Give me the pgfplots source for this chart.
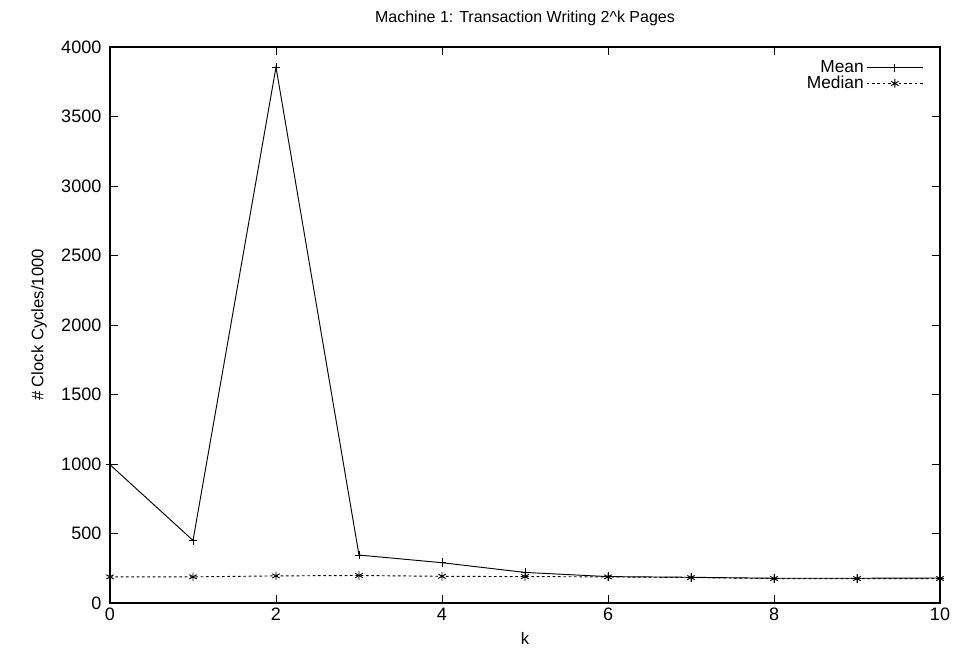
\documentclass[border=0pt]{standalone}
\usepackage{pgfplots}
\pgfplotsset{compat=1.18}
\usepackage{fontspec}
\setmainfont{Liberation Sans}
\begin{document}
\begin{tikzpicture}[x=0.75pt,y=0.75pt]
\useasboundingbox (-110,-59) rectangle (846,603);
\begin{axis}[
  at={(0,0)}, anchor=south west,
  scale only axis, width=830*0.75pt, height=556*0.75pt,
  xmin=0, xmax=10, ymin=0, ymax=4000,
  xtick={0,2,...,10}, ytick={0,500,...,4000},
  tick align=inside, major tick length=6pt,
  axis line style={line width=0.9pt},
  every tick/.style={black, line width=0.6pt},
  /pgf/number format/assume math mode=true,
  ticklabel style={font=\fontsize{13.5}{15}\selectfont},
  yticklabel style={xshift=-3pt},
  scaled y ticks=false,
  yticklabel style={/pgf/number format/set thousands separator={}},
  xlabel={k}, ylabel={\# Clock Cycles/1000},
  label style={font=\fontsize{12.5}{14}\selectfont},
  xlabel style={yshift=-2pt},
  ylabel style={yshift=4pt},
  title={Machine 1: Transaction Writing 2\textasciicircum k Pages},
  title style={font=\fontsize{12}{14}\selectfont, yshift=6pt},
  legend style={draw=none, fill=none, at={(0.985,0.985)}, anchor=north east,
    font=\fontsize{13}{15}\selectfont, row sep=-3pt},
  legend cell align=right, legend plot pos=right,
  legend image code/.code={\draw[#1, mark=none] (8pt,0pt) -- (50pt,0pt); \draw[#1,solid] plot coordinates {(29pt,0pt)};},
]
\addplot[black, line width=0.7pt, mark=+, mark size=3.2pt, mark options={solid}] coordinates {
(0,995) (1,450) (2,3855) (3,345) (4,290) (5,220) (6,190) (7,185) (8,178) (9,178) (10,180)
};
\addlegendentry{Mean}
\addplot[black, line width=0.7pt, dash pattern=on 2pt off 2pt, mark=asterisk, mark size=3.2pt, mark options={solid}] coordinates {
(0,188) (1,188) (2,195) (3,198) (4,192) (5,190) (6,188) (7,183) (8,176) (9,176) (10,176)
};
\addlegendentry{Median}
\end{axis}
\end{tikzpicture}
\end{document}
